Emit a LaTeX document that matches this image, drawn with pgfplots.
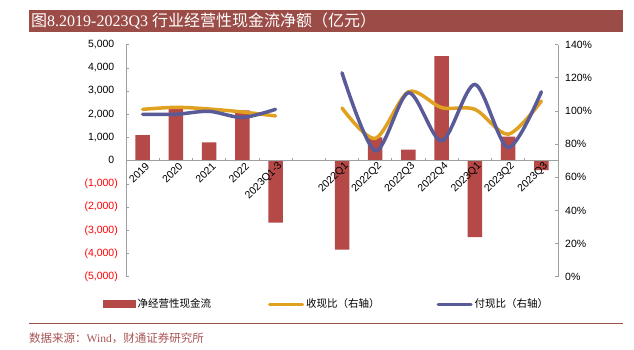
\documentclass[border=0pt]{standalone}
\usepackage{pgfplots}
\pgfplotsset{compat=1.18}
\usepackage{pgfplotstable}
\usepackage{fontspec}
\setmainfont{Liberation Sans}
\newfontfamily\cjk{Noto Sans CJK SC}
\newfontfamily\tnr{Liberation Serif}
\definecolor{titlebg}{RGB}{155,76,71}
\definecolor{barred}{RGB}{181,73,72}
\definecolor{lineorange}{RGB}{224,161,32}
\definecolor{lineblue}{RGB}{89,90,152}
\definecolor{axisgray}{RGB}{160,160,160}
\definecolor{srcred}{RGB}{170,85,85}

\pgfplotstableread{
x y
0 1100
1 2340
2 795
3 2168
4 -2673
6 -3830
7 1010
8 477
9 4509
10 -3295
11 1040
12 -405
}\bars

\begin{document}
\begin{tikzpicture}
\path[use as bounding box] (0pt,0pt) rectangle (634pt,-350pt);
\fill[white] (0pt,0pt) rectangle (634pt,-350pt);
\fill[titlebg] (29pt,-10pt) rectangle (623pt,-32pt);
\node[anchor=west, text=white, inner sep=0pt] at (31pt,-21pt) {\fontsize{16}{18}\selectfont\cjk 图\tnr 8.2019-2023Q3 \cjk 行业经营性现金流净额（亿元）};

\begin{axis}[
  at={(126pt,-276.7pt)}, anchor=south west, scale only axis,
  width=432pt, height=232pt,
  xmin=-0.5, xmax=12.5, ymin=-5000, ymax=5000,
  enlargelimits=false, axis on top,
  axis x line=middle, axis y line=left,
  axis line style={draw=axisgray, line width=0.8pt, -},
  tick align=inside, major tick length=3pt,
  tick style={draw=axisgray, line width=0.8pt},
  hide obscured x ticks=false, hide obscured y ticks=false,
  xtick={0.5,1.5,2.5,3.5,4.5,5.5,6.5,7.5,8.5,9.5,10.5,11.5},
  xticklabels={},
  extra x ticks={0,1,2,3,4,6,7,8,9,10,11,12},
  extra x tick labels={2019,2020,2021,2022,2023Q1-3,2022Q1,2022Q2,2022Q3,2022Q4,2023Q1,2023Q2,2023Q3},
  extra x tick style={major tick length=0pt,
    xticklabel style={rotate=45, anchor=east, inner sep=1pt, yshift=-6pt, xshift=2pt, font=\fontsize{10.5}{12}\selectfont}},
  ytick={-5000,-4000,-3000,-2000,-1000,0,1000,2000,3000,4000,5000},
  yticklabels={{\color{red}(5,000)},{\color{red}(4,000)},{\color{red}(3,000)},{\color{red}(2,000)},{\color{red}(1,000)},{0\phantom{)}},{1,000\phantom{)}},{2,000\phantom{)}},{3,000\phantom{)}},{4,000\phantom{)}},{5,000\phantom{)}}},
  yticklabel style={font=\fontsize{10.5}{12}\selectfont, inner sep=0pt, anchor=east, xshift=-8pt},
]
\addplot[ybar, bar width=14.5pt, bar shift=0pt, fill=barred, draw=none] table[x=x,y=y]{\bars};
\end{axis}

\begin{axis}[
  at={(126pt,-276.7pt)}, anchor=south west, scale only axis,
  width=432pt, height=232pt,
  xmin=-0.5, xmax=12.5, ymin=0, ymax=1.4,
  enlargelimits=false,
  axis x line=none, axis y line=right,
  axis line style={draw=axisgray, line width=0.8pt, -},
  tick align=inside, major tick length=3pt,
  tick style={draw=axisgray, line width=0.8pt},
  ytick={0,0.2,0.4,0.6,0.8,1.0,1.2,1.4},
  yticklabels={0\%,20\%,40\%,60\%,80\%,100\%,120\%,140\%},
  yticklabel style={font=\fontsize{10.5}{12}\selectfont, inner sep=0pt, anchor=west, xshift=7pt},
  legend columns=3,
  legend style={at={(-0.0532,-0.1177)}, anchor=west, draw=none, fill=none,
    inner sep=0pt, font=\fontsize{10.5}{12}\selectfont,
    /tikz/every even column/.append style={column sep=55pt}},
]
\addlegendimage{legend image code/.code={\fill[barred] (0pt,-3.5pt) rectangle (32pt,3.5pt);}}
\addlegendentry{\cjk 净经营性现金流}
\addplot[lineorange, line width=3.5pt, line cap=round, smooth,
  legend image code/.code={\draw[lineorange, line width=3pt] (0pt,0pt) -- (33pt,0pt);}]
  coordinates {(0,1.010)(1,1.022)(2,1.012)(3,0.994)(4,0.970)};
\addlegendentry{\cjk 收现比（右轴）}
\addplot[lineorange, line width=3.5pt, line cap=round, smooth, forget plot]
  coordinates {(6,1.018)(7,0.835)(8,1.116)(9,1.020)(10,1.010)(11,0.860)(12,1.060)};
\addplot[lineblue, line width=3.5pt, line cap=round, smooth,
  legend image code/.code={\draw[lineblue, line width=3pt] (0pt,0pt) -- (33pt,0pt);}]
  coordinates {(0,0.980)(1,0.980)(2,0.998)(3,0.961)(4,1.010)};
\addlegendentry{\cjk 付现比（右轴）}
\addplot[lineblue, line width=3.5pt, line cap=round, smooth, forget plot]
  coordinates {(6,1.230)(7,0.760)(8,1.110)(9,0.820)(10,1.160)(11,0.780)(12,1.116)};
\end{axis}

\draw[titlebg, line width=1pt] (29pt,-323pt) -- (623pt,-323pt);
\node[anchor=west, inner sep=0pt, text=srcred] at (29pt,-338pt) {\fontsize{11.5}{13}\selectfont\cjk 数据来源：\tnr Wind\cjk ，财通证券研究所};
\end{tikzpicture}
\end{document}
